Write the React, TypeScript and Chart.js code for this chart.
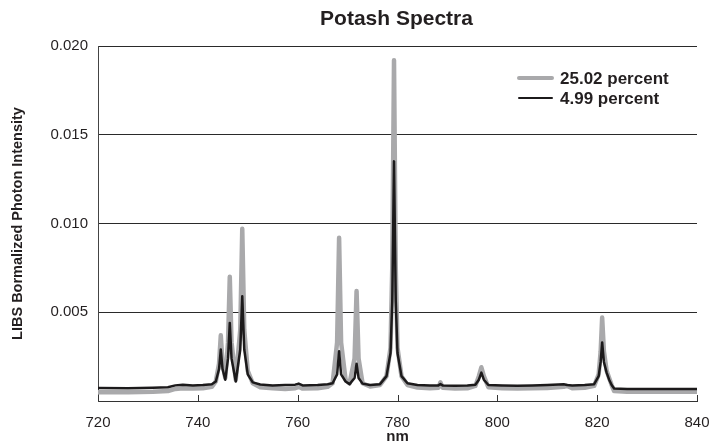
import React, { useEffect, useRef } from 'react';
import { Chart, registerables } from 'chart.js';

Chart.register(...registerables);

const TITLE = 'Potash Spectra';
const X_TITLE = 'nm';
const Y_TITLE = 'LIBS Bormalized Photon Intensity';
const SERIES_LABELS = ['25.02 percent', '4.99 percent'];
const X_TICKS = [720, 740, 760, 780, 800, 820, 840];
const Y_TICKS = [0, 0.005, 0.01, 0.015, 0.02];

// wavelength (nm)
const WAVELENGTHS = [
  720, 726, 731, 734, 735.5, 737, 739, 741, 742.8,
  743.6, 744.25, 744.6, 744.95, 745.5,
  746.05, 746.4, 746.75, 747.6,
  748.5, 748.9, 749.3, 750.0, 751.0, 752.5,
  755, 757.5, 759.5, 760.2, 761, 764, 766,
  767.0, 767.9, 768.3, 768.7, 769.6, 770.4,
  771.4, 771.8, 772.2, 773.0, 774.5,
  776.5, 777.8, 778.6, 778.95, 779.3, 779.65, 780.0, 780.8, 782.0,
  784, 786.5, 788.2, 788.6, 789.1, 791.5, 794,
  795.6, 796.3, 796.8, 797.3, 798.2,
  801, 804, 807, 810, 813.3, 814, 815, 817.5,
  819.4, 820.3, 820.7, 821.0, 821.35, 821.9, 822.4, 822.9, 823.4,
  826, 830, 835, 840,
];

// 25.02 percent (gray)
const GRAY_VALUES = [
  0.0005, 0.0005, 0.00052, 0.00056, 0.00068, 0.00072, 0.0007, 0.00072, 0.0008,
  0.0011, 0.0021, 0.0037, 0.0021, 0.0013,
  0.0033, 0.007, 0.0033, 0.0012,
  0.004, 0.0097, 0.004, 0.0017, 0.001, 0.00078,
  0.00072, 0.00068, 0.00072, 0.0008, 0.0007, 0.00072, 0.0008,
  0.001, 0.0033, 0.0092, 0.0033, 0.0012, 0.001,
  0.0024, 0.0062, 0.0024, 0.001, 0.00082,
  0.0009, 0.0014, 0.003, 0.0075, 0.0192, 0.0075, 0.003, 0.0014, 0.0009,
  0.00076, 0.00072, 0.00075, 0.00105, 0.00074, 0.0007, 0.00072,
  0.00085, 0.0014, 0.0019, 0.0014, 0.00078,
  0.00072, 0.0007, 0.00072, 0.00073, 0.0008, 0.00085, 0.00072, 0.00074,
  0.00085, 0.0015, 0.0028, 0.0047, 0.0028, 0.0017, 0.0013, 0.0009, 0.00056,
  0.00052, 0.00052, 0.00052, 0.00052,
];

// 4.99 percent (black)
const BLACK_VALUES = [
  0.00073, 0.00072, 0.00074, 0.00077, 0.00088, 0.00092, 0.00088, 0.0009, 0.00094,
  0.0011, 0.0018, 0.0029, 0.0018, 0.0012,
  0.0024, 0.0044, 0.0024, 0.0011,
  0.0029, 0.0059, 0.0029, 0.0015, 0.00105, 0.00093,
  0.00088, 0.0009, 0.00092, 0.00098, 0.00088, 0.0009, 0.00094,
  0.001, 0.0015, 0.0028, 0.0015, 0.0011, 0.00095,
  0.0013, 0.0021, 0.0013, 0.00098, 0.0009,
  0.00095, 0.0014, 0.0027, 0.0056, 0.0135, 0.0056, 0.0027, 0.0014, 0.001,
  0.0009, 0.00088, 0.00088, 0.00095, 0.00087, 0.00086, 0.00088,
  0.00092, 0.0012, 0.0016, 0.0012, 0.0009,
  0.00088, 0.00086, 0.00088, 0.0009, 0.00094, 0.0009, 0.00088, 0.0009,
  0.00095, 0.0014, 0.0022, 0.0033, 0.0022, 0.0016, 0.0012, 0.0009, 0.0007,
  0.00068, 0.00068, 0.00068, 0.00068,
];

const GRAY = '#a9a9ab';
const BLACK = '#1c1a1b';
const TEXT = '#231f20';
const FONT = "'Liberation Sans', Arial, Helvetica, sans-serif";

const decorPlugin = {
  id: 'decor',
  afterDatasetsDraw(chart: any) {
    const { ctx, chartArea, scales } = chart;
    ctx.save();
    ctx.strokeStyle = '#333';
    ctx.lineWidth = 1;
    X_TICKS.forEach((v) => {
      const px = Math.round(scales.x.getPixelForValue(v)) + 0.5;
      ctx.beginPath();
      ctx.moveTo(px, chartArea.bottom);
      ctx.lineTo(px, chartArea.bottom - 6);
      ctx.stroke();
    });
    ctx.restore();
  },
  afterDraw(chart: any) {
    const { ctx, chartArea } = chart;
    ctx.save();
    ctx.fillStyle = TEXT;
    // title
    ctx.font = `bold 21px ${FONT}`;
    ctx.textAlign = 'center';
    ctx.textBaseline = 'middle';
    ctx.fillText(TITLE, (chartArea.left + chartArea.right) / 2 - 1, 19);
    // x title
    ctx.font = `bold 15px ${FONT}`;
    ctx.fillText(X_TITLE, (chartArea.left + chartArea.right) / 2, 437);
    // y title
    ctx.save();
    ctx.translate(18, (chartArea.top + chartArea.bottom) / 2);
    ctx.rotate(-Math.PI / 2);
    ctx.font = `bold 14.5px ${FONT}`;
    ctx.fillText(Y_TITLE, 0, 0);
    ctx.restore();
    // legend
    const items = [
      { label: SERIES_LABELS[0], color: GRAY, width: 4, y: 78 },
      { label: SERIES_LABELS[1], color: BLACK, width: 2, y: 98 },
    ];
    items.forEach((it) => {
      ctx.strokeStyle = it.color;
      ctx.lineWidth = it.width;
      ctx.lineCap = 'round';
      ctx.beginPath();
      ctx.moveTo(519, it.y);
      ctx.lineTo(552, it.y);
      ctx.stroke();
      ctx.fillStyle = TEXT;
      ctx.font = `bold 17px ${FONT}`;
      ctx.textAlign = 'left';
      ctx.textBaseline = 'middle';
      ctx.fillText(it.label, 560, it.y + 1);
    });
    ctx.restore();
  },
};

export default function App() {
  const ref = useRef<HTMLCanvasElement>(null);
  useEffect(() => {
    if (!ref.current) return;
    const toPoints = (vals: number[]) => WAVELENGTHS.map((x, i) => ({ x, y: vals[i] }));
    const chart = new Chart(ref.current, {
      type: 'line',
      data: {
        datasets: [
          {
            label: SERIES_LABELS[0],
            data: toPoints(GRAY_VALUES),
            borderColor: GRAY,
            borderWidth: 4.5,
            pointRadius: 0,
            tension: 0,
            order: 2,
            borderJoinStyle: 'round',
          },
          {
            label: SERIES_LABELS[1],
            data: toPoints(BLACK_VALUES),
            borderColor: BLACK,
            borderWidth: 2.5,
            pointRadius: 0,
            tension: 0,
            order: 1,
            borderJoinStyle: 'round',
          },
        ],
      },
      plugins: [decorPlugin],
      options: {
        animation: false,
        responsive: false,
        devicePixelRatio: window.devicePixelRatio || 1,
        layout: { padding: { top: 46, right: 26, left: 0, bottom: 0 } },
        plugins: {
          legend: { display: false },
          title: { display: false },
          tooltip: { enabled: false },
        },
        scales: {
          x: {
            type: 'linear',
            min: 720,
            max: 840,
            afterBuildTicks: (s: any) => {
              s.ticks = X_TICKS.map((v) => ({ value: v }));
            },
            afterFit: (s: any) => {
              s.height = 42;
            },
            grid: { display: false, drawTicks: false },
            border: { display: true, color: '#333', width: 1 },
            ticks: {
              color: TEXT,
              font: { family: FONT, size: 15 },
              padding: 13,
              maxRotation: 0,
              autoSkip: false,
            },
          },
          y: {
            type: 'linear',
            min: 0,
            max: 0.02,
            afterBuildTicks: (s: any) => {
              s.ticks = Y_TICKS.map((v) => ({ value: v }));
            },
            afterFit: (s: any) => {
              s.width = 98;
            },
            grid: { color: '#2a2a2a', lineWidth: 1, drawTicks: false },
            border: { display: true, color: '#444', width: 1 },
            ticks: {
              color: TEXT,
              font: { family: FONT, size: 15 },
              padding: 10,
              callback: (v: any) => (Number(v) === 0 ? '' : Number(v).toFixed(3)),
            },
          },
        },
      },
    } as any);
    return () => chart.destroy();
  }, []);
  return (
    <div style={{ position: 'absolute', left: 0, top: 0, width: 723, height: 443, background: '#fff' }}>
      <canvas ref={ref} width={723} height={443} style={{ width: 723, height: 443 }} />
    </div>
  );
}
